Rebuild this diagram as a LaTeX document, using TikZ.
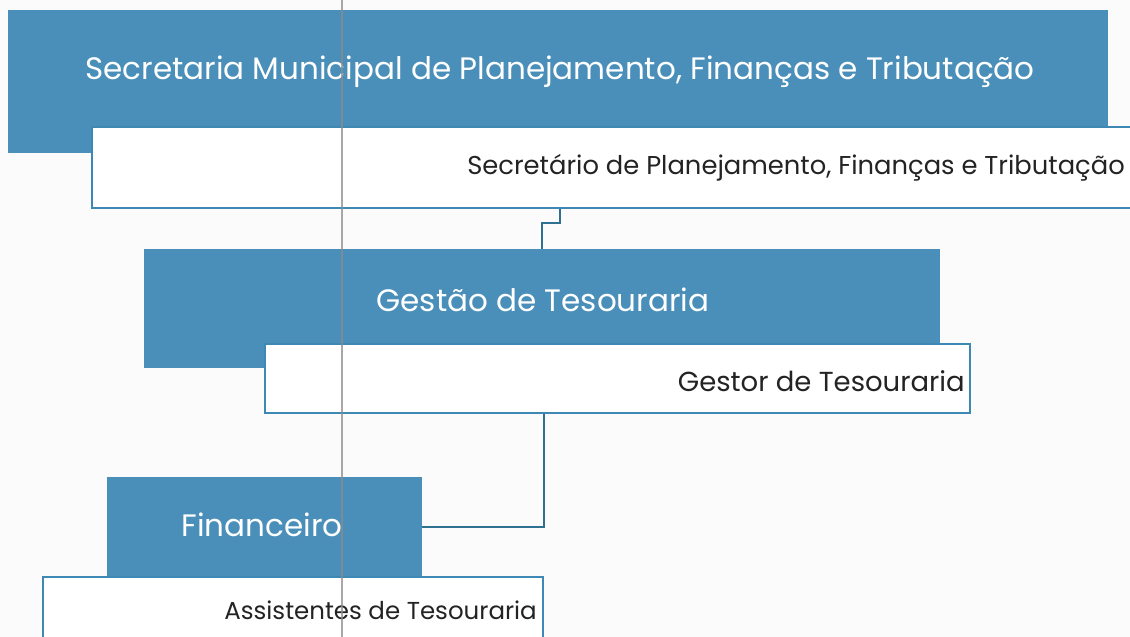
\documentclass[tikz,border=0pt]{standalone}
\usepackage{fontspec}
\setmainfont{Poppins}
\definecolor{unitblue}{RGB}{74,143,185}
\definecolor{edgeblue}{RGB}{62,136,180}
\definecolor{linkblue}{RGB}{45,112,145}
\definecolor{paper}{RGB}{251,251,251}
\definecolor{ink}{RGB}{35,35,35}
\tikzset{
  unitbox/.style={rectangle,fill=unitblue,inner sep=0pt},
  rolebox/.style={rectangle,draw=edgeblue,fill=white,line width=1.4pt,inner sep=0pt},
  unittext/.style={text=white,inner sep=0pt,font=\fontsize{31}{36}\selectfont},
  roletext/.style={text=ink,inner sep=0pt,anchor=east,font=\fontsize{#1}{#1}\selectfont},
  link/.style={draw=linkblue,line width=1.6pt}
}
\begin{document}
\begin{tikzpicture}[x=1pt,y=-1pt]
		\useasboundingbox (0,0) rectangle (1130,637);
		\clip (0,0) rectangle (1130,637);
		\fill[paper] (0,0) rectangle (1130,637);

		\node[unitbox,minimum width=1100pt,minimum height=143pt] (sec) at (558,81.5) {};
		\node[rolebox,minimum width=1048pt,minimum height=81pt] (secr) at (616,167.5) {};
		\node[unittext] (sectxt) at (560,72) {Secretaria Municipal de Planejamento, Finanças e Tributação};
		\node[roletext=25.8] (secrtxt) at (1125,168) {Secretário de Planejamento, Finanças e Tributação};

		\node[unitbox,minimum width=796pt,minimum height=119pt] (ges) at (542,308.5) {};
		\node[rolebox,minimum width=705pt,minimum height=69pt] (gest) at (617.5,378.5) {};
		\node[unittext] (gestxt) at (543,300) {Gestão de Tesouraria};
		\node[roletext=27.5] (gesttxt) at (965,381) {Gestor de Tesouraria};

		\node[unitbox,minimum width=315pt,minimum height=100pt] (fin) at (264.5,527) {};
		\node[rolebox,minimum width=500pt,minimum height=83pt] (assi) at (293,618.5) {};
		\node[unittext] (fintxt) at (262,525) {Financeiro};
		\node[roletext=24.5] (assitxt) at (537,610) {Assistentes de Tesouraria};

		\draw[link] ([xshift=18pt]ges.north |- secr.south) -- ++(0,14) -| (ges.north);
		\draw[link] (gest.south -| assi.east) |- (fin.east);

		\draw[gray!90,line width=1.1pt,opacity=0.75] (342,0) -- (342,637);
\end{tikzpicture}
\end{document}
